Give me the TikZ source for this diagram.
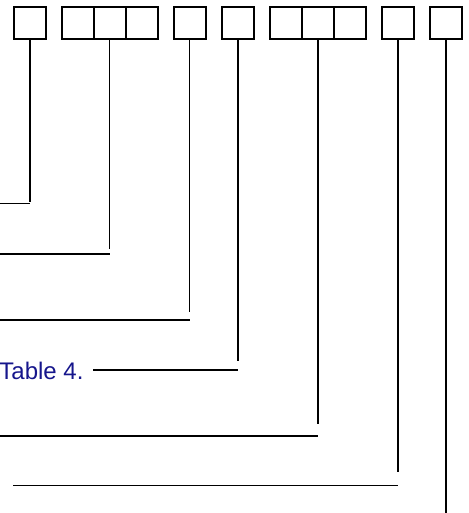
\documentclass[tikz,border=0pt]{standalone}
\usepackage{fontspec}
\setmainfont{Liberation Sans}
\usepackage{xcolor}
\usetikzlibrary{positioning}
\definecolor{labelblue}{HTML}{16168C}

\begin{document}
\begin{tikzpicture}[x=1pt, y=-1pt, line width=1.6pt,
  every node/.style={font=\fontsize{24}{28}\selectfont, inner sep=0pt, outer sep=0pt},
  cell/.style={draw, line width=2pt, minimum size=32pt}]
  \useasboundingbox (0,0) rectangle (468,513);

  % row of cells
  \node[cell] (c1) at (29.7,23) {};
  \node[cell] (c2) at (77.5,23) {};
  \node[cell, right=0pt of c2] (c3) {};
  \node[cell, right=0pt of c3] (c4) {};
  \node[cell] (c5) at (189.5,23) {};
  \node[cell] (c6) at (237.7,23) {};
  \node[cell] (c7) at (285.7,23) {};
  \node[cell, right=0pt of c7] (c8) {};
  \node[cell, right=0pt of c8] (c9) {};
  \node[cell] (c10) at (397.7,23) {};
  \node[cell] (c11) at (445.7,23) {};

  \node[text=labelblue, anchor=base east] (tab) at (83.5,379.3) {Table 4.};

  % leader lines
  \coordinate (h1) at (0,203.3);
  \coordinate (h2) at (0,253.7);
  \coordinate (h3) at (0,319.7);
  \coordinate (h4) at (93.3,369.7);
  \coordinate (h5) at (0,435.7);
  \coordinate (h6) at (13.3,485.3);

  \draw (c1.south) -- (c1 |- 0,202);
  \draw (h1) -- (h1 -| c1);
  \draw (c3.south) -- (c3 |- 0,249);
  \draw (h2) -- (h2 -| c3);
  \draw (c5.south) -- (c5 |- 0,312);
  \draw (h3) -- (h3 -| c5);
  \draw (c6.south) -- (c6 |- 0,360.7);
  \draw (h4) -- (h4 -| c6);
  \draw (c8.south) -- (c8 |- 0,424);
  \draw (h5) -- (h5 -| c8);
  \draw (c10.south) -- (c10 |- 0,472);
  \draw (h6) -- (h6 -| c10);
  \draw (c11.south) -- (c11 |- 0,513);
\end{tikzpicture}
\end{document}
